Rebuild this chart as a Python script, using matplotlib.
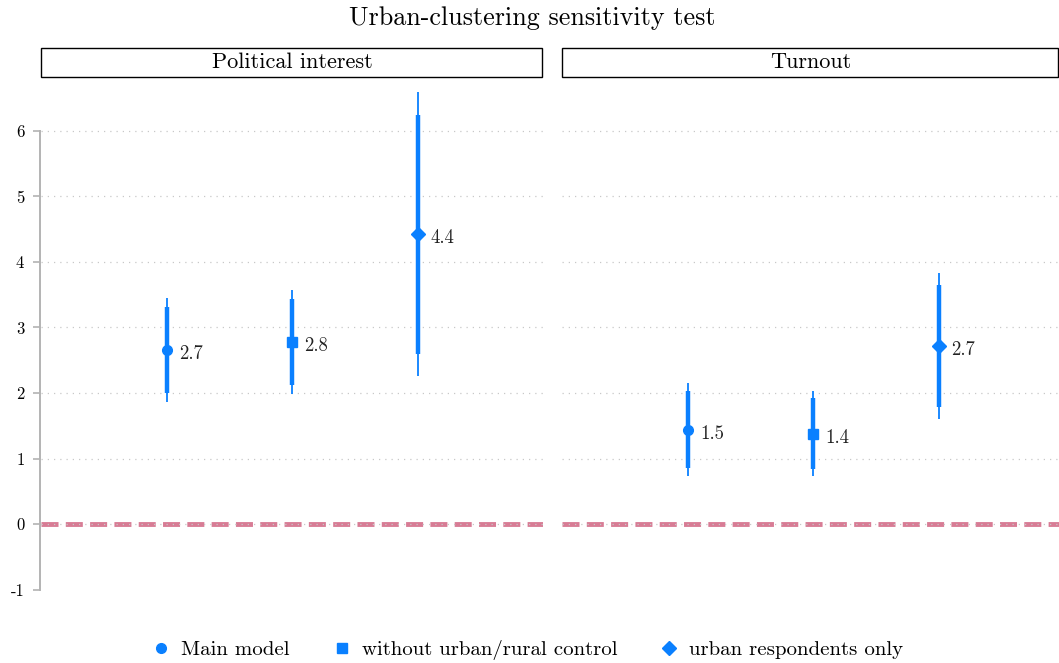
import matplotlib.pyplot as plt
from matplotlib.lines import Line2D
from matplotlib.patches import Rectangle

plt.rcParams['font.family'] = ['cmr10', 'DejaVu Serif']
plt.rcParams['mathtext.fontset'] = 'cm'

panels = ["Political interest", "Turnout"]
models = ["Main model", "without urban/rural control", "urban respondents only"]
markers = ["o", "s", "D"]
marker_sizes = [7, 7, 7.5]

# estimates with inner (thick) and outer (thin) intervals, per panel
est = [[2.66, 2.78, 4.43], [1.44, 1.37, 2.72]]
inner_lo = [[2.00, 2.12, 2.60], [0.85, 0.84, 1.79]]
inner_hi = [[3.31, 3.43, 6.24], [2.03, 1.92, 3.65]]
outer_lo = [[1.86, 1.98, 2.26], [0.73, 0.73, 1.60]]
outer_hi = [[3.45, 3.57, 6.60], [2.15, 2.03, 3.83]]
labels = [["2.7", "2.8", "4.4"], ["1.5", "1.4", "2.7"]]

yticks = [-1, 0, 1, 2, 3, 4, 5, 6]
blue = "#0a80ff"
pink = "#d87c95"

W, H = 1059, 663
fig = plt.figure(figsize=(W / 100, H / 100), dpi=100)

panel_px = [(41, 543), (562, 1064)]
top_px, bot_px = 88, 600

for p, (x0, x1) in enumerate(panel_px):
    ax = fig.add_axes([x0 / W, (H - bot_px) / H, (x1 - x0) / W, (bot_px - top_px) / H])
    ax.set_xlim(0, 4)
    ax.set_ylim(-1.16, 6.656)

    for g in range(0, 7):
        ax.axhline(g, color="#c8c8c8", lw=0.9, ls=(0, (1, 4)), zorder=3)
    ax.axhline(0, color=pink, lw=3.5, ls=(0, (3.5, 1.5)), zorder=2)

    for i in range(3):
        x = i + 1
        ax.vlines(x, outer_lo[p][i], outer_hi[p][i], color=blue, lw=1.3, zorder=4)
        ax.vlines(x, inner_lo[p][i], inner_hi[p][i], color=blue, lw=3.2, zorder=4)
        ax.plot(x, est[p][i], marker=markers[i], ms=marker_sizes[i], color=blue,
                mec=blue, ls="none", zorder=5)
        ax.annotate(labels[p][i], (x, est[p][i]), xytext=(9, -3),
                    textcoords="offset points", va="center", ha="left",
                    fontsize=13.5, color="#222222")

    ax.set_xticks([])
    for s in ["top", "right", "bottom"]:
        ax.spines[s].set_visible(False)
    if p == 0:
        ax.spines["left"].set_bounds(-1, 6)
        ax.spines["left"].set_color("#b3b3b3")
        ax.spines["left"].set_linewidth(1.4)
        ax.spines["left"].set_position(("outward", 1))
        ax.set_yticks(yticks)
        ax.set_yticklabels([str(t) for t in yticks], fontsize=12)
        ax.tick_params(axis="y", color="#b3b3b3", length=5, width=1.2, pad=6)
    else:
        ax.spines["left"].set_visible(False)
        ax.set_yticks([])

    # facet strip
    fig.patches.append(Rectangle((x0 / W, (H - 77) / H), (min(x1, W) - x0 - 1) / W, 29 / H,
                                 transform=fig.transFigure, fill=False,
                                 edgecolor="black", lw=1.0))
    fig.text((x0 + min(x1, W)) / 2 / W, (H - 62) / H, panels[p], ha="center",
             va="center", fontsize=16)

fig.text(532 / W, (H - 18) / H, "Urban-clustering sensitivity test",
         ha="center", va="center", fontsize=18.8)

handles = [Line2D([], [], marker=m, ms=s, color=blue, ls="none")
           for m, s in zip(markers, marker_sizes)]
fig.legend(handles, models, loc="center", bbox_to_anchor=(526 / W, (H - 650) / H),
           ncol=3, frameon=False, fontsize=15, handletextpad=0.35,
           columnspacing=1.9, handlelength=1.2)

fig.savefig("out.png", dpi=100)
